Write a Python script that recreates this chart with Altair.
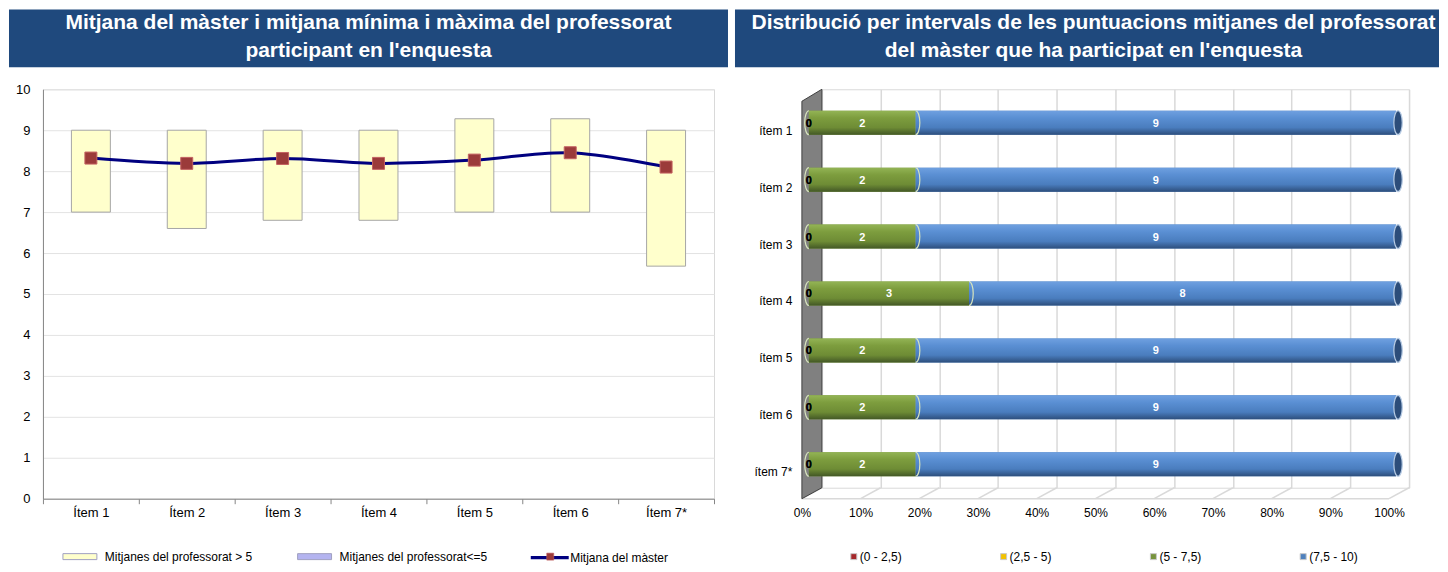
import altair as alt
import pandas as pd

FONT = "Liberation Sans"

# ---------------- titles ----------------
titol_esq = "Mitjana del màster i mitjana mínima i màxima del professorat\nparticipant en l'enquesta"
titol_dre = "Distribució per intervals de les puntuacions mitjanes del professorat\ndel màster que ha participat en l'enquesta"

# ---------------- left chart data ----------------
items_esq = ["Ítem 1", "Ítem 2", "Ítem 3", "Ítem 4", "Ítem 5", "Ítem 6", "Ítem 7*"]
minim_prof = [7.0, 6.6, 6.8, 6.8, 7.0, 7.0, 5.68]
maxim_prof = [9.0, 9.0, 9.0, 9.0, 9.28, 9.28, 9.0]
mitjana_master = [8.32, 8.19, 8.31, 8.19, 8.27, 8.45, 8.10]
ticks_y_esq = [0, 1, 2, 3, 4, 5, 6, 7, 8, 9, 10]
series_esq = ["Mitjanes del professorat > 5", "Mitjanes del professorat<=5", "Mitjana del màster"]

# ---------------- right chart data ----------------
items_dre = ["ítem 1", "ítem 2", "ítem 3", "ítem 4", "ítem 5", "ítem 6", "ítem 7*"]
intervals = ["(0 - 2,5)", "(2,5 - 5)", "(5 - 7,5)", "(7,5 - 10)"]
n_0_25 = [0, 0, 0, 0, 0, 0, 0]
n_25_5 = [0, 0, 0, 0, 0, 0, 0]
n_5_75 = [2, 2, 2, 3, 2, 2, 2]
n_75_10 = [9, 9, 9, 8, 9, 9, 9]
ticks_x_dre = [0, 0.1, 0.2, 0.3, 0.4, 0.5, 0.6, 0.7, 0.8, 0.9, 1.0]

HEAD_COLOR = "#1F497D"
EXT_L, EXT_R = 34, 87          # y-axis extents
W_L, W_R = 720, 705            # header widths
PW_L, PH_L = 672, 410
PW_R, PH_R = 588, 399
HEAD_TOP, HEAD_BOT = -80, -22  # header band relative to plot top


def capcalera(text, ext, w, centre):
    df = pd.DataFrame({"titol": [text]})
    fons = alt.Chart(df).mark_rect(fill=HEAD_COLOR).encode(
        x=alt.value(-ext), x2=alt.value(w - ext),
        y=alt.value(HEAD_TOP), y2=alt.value(HEAD_BOT))
    txt = alt.Chart(df).mark_text(
        color="white", font=FONT, fontSize=21, fontWeight="bold",
        lineBreak="\n", lineHeight=28, align="center", baseline="middle",
    ).encode(x=alt.value(centre), y=alt.value(HEAD_TOP + 14), text="titol:N")
    return [fons, txt]


# ================= LEFT BODY =================
# the marker legend is drawn on top of the line legend (its label is hidden);
# a trailing space keeps both legends from being merged into one
serie_marcador = series_esq[2] + " "
df_esq = pd.DataFrame({
    "item": items_esq, "minim": minim_prof, "maxim": maxim_prof,
    "mitjana": mitjana_master,
    "serie": [series_esq[0]] * len(items_esq),
    "serie_linia": [series_esq[2]] * len(items_esq),
    "serie_punt": [serie_marcador] * len(items_esq),
})

x_l = alt.X("item:N", sort=items_esq, title=None,
            scale=alt.Scale(paddingInner=0, paddingOuter=0),
            axis=alt.Axis(labelAngle=0, labelFontSize=13, labelFont=FONT, labelColor="#000000",
                          labelPadding=3, domainColor="#868686", tickColor="#868686",
                          tickSize=5, tickBand="extent", grid=False))
y_scale_l = alt.Scale(domain=[0, 10], nice=False)
y_axis_l = alt.Axis(values=ticks_y_esq, title=None, labelFontSize=13, labelFont=FONT,
                    labelColor="#000000", grid=True, gridColor="#E3E3E3",
                    domainColor="#868686", ticks=False, tickSize=0, labelPadding=13,
                    minExtent=EXT_L, maxExtent=EXT_L)

RECT = "M-3.4,-0.6H3.4V0.6H-3.4Z"
LINIA = "M-2.7,0H4.9"
QUADRAT = "M0.7,-0.7H2.1V0.7H0.7Z"

legend_barres = alt.Legend(
    title=None, orient="none", legendX=31, legendY=462, direction="horizontal",
    symbolSize=100, symbolType=RECT, labelFontSize=12, labelFont=FONT, labelColor="#000000",
    labelOffset=19, columnPadding=43, padding=0, symbolStrokeWidth=1,
    symbolStrokeColor="#A0A0C0", symbolOpacity=1,
)
legend_linia = alt.Legend(
    title=None, orient="none", legendX=495, legendY=462, direction="horizontal",
    symbolSize=100, symbolType=LINIA, labelFontSize=12, labelFont=FONT, labelColor="#000000",
    labelOffset=19, padding=0, symbolStrokeWidth=3.3, symbolOpacity=1, zindex=1,
)
legend_punt = alt.Legend(
    title=None, orient="none", legendX=495, legendY=462, direction="horizontal",
    symbolSize=100, symbolType=QUADRAT, labelFontSize=12, labelFont=FONT, labelColor="#000000",
    labelOffset=19, padding=0, symbolStrokeWidth=0.6, symbolStrokeColor="#C46161",
    symbolOpacity=1, labelOpacity=0, zindex=2,
)

barres_l = alt.Chart(df_esq).mark_bar(width=39, stroke="#A6A6A6", strokeWidth=1).encode(
    x=x_l,
    y=alt.Y("minim:Q", scale=y_scale_l, axis=y_axis_l, title=None),
    y2="maxim:Q",
    color=alt.Color("serie:N", scale=alt.Scale(domain=series_esq[:2],
                                               range=["#FFFFCC", "#B4B4F0"]),
                    legend=legend_barres),
)
linia_l = alt.Chart(df_esq).mark_line(strokeWidth=3, interpolate="catmull-rom").encode(
    x=x_l, y=alt.Y("mitjana:Q", scale=y_scale_l, axis=y_axis_l, title=None),
    stroke=alt.Stroke("serie_linia:N", scale=alt.Scale(domain=[series_esq[2]], range=["#000080"]),
                      legend=legend_linia))
punts_l = alt.Chart(df_esq).mark_square(size=144, stroke="#C46161",
                                        strokeWidth=1, opacity=1).encode(
    x=x_l, y=alt.Y("mitjana:Q", scale=y_scale_l, axis=y_axis_l, title=None),
    fill=alt.Fill("serie_punt:N", scale=alt.Scale(domain=[serie_marcador], range=["#9B3B3A"]),
                  legend=legend_punt))

cos_l = alt.layer(*capcalera(titol_esq, EXT_L, W_L, W_L / 2 - EXT_L),
                  barres_l, linia_l, punts_l).properties(width=PW_L, height=PH_L)

# ================= RIGHT BODY =================
files = []
for i, it in enumerate(items_dre):
    for k, arr in enumerate([n_0_25, n_25_5, n_5_75, n_75_10]):
        files.append({"item": it, "interval": intervals[k], "n": arr[i], "ordre": k})
df_dre = pd.DataFrame(files)

base_r = alt.Chart(df_dre).transform_stack(
    stack="n", groupby=["item"], as_=["v0", "v1"], offset="normalize",
    sort=[alt.SortField("ordre", order="ascending")],
).transform_calculate(mig="(datum.v0 + datum.v1) / 2")

x_axis_r = alt.Axis(values=ticks_x_dre, format=".0%", labelOffset=-20, labelPadding=20,
                    ticks=False, tickSize=0, domain=False, grid=True, gridColor="#D9D9D9",
                    gridWidth=1.5, labelFontSize=12, labelFont=FONT, labelColor="#000000",
                    labelFlush=False, title=None)
x_scale_r = alt.Scale(domain=[0, 1], nice=False)


def xr(field):
    return alt.X(field, scale=x_scale_r, axis=x_axis_r, title=None)


y_r = alt.Y("item:N", sort=items_dre, title=None,
            scale=alt.Scale(paddingInner=0, paddingOuter=0),
            axis=alt.Axis(labelFontSize=12, labelFont=FONT, labelColor="#000000",
                          labelOffset=13, labelPadding=30, ticks=False, tickSize=0,
                          domain=False, grid=False, minExtent=EXT_R, maxExtent=EXT_R))

df_ticks = pd.DataFrame({"tick": ticks_x_dre})
terra_diag = alt.Chart(df_ticks).mark_rule(color="#D9D9D9", strokeWidth=1.5,
                                           x2Offset=-20, y2Offset=11).encode(
    x=xr("tick:Q"), x2="tick:Q", y=alt.value("height"), y2=alt.value("height"))
terra_front = alt.Chart(pd.DataFrame({"a": [ticks_x_dre[0]], "b": [ticks_x_dre[-1]]})).mark_rule(
    color="#D9D9D9", strokeWidth=1.5, xOffset=-20, x2Offset=-20, yOffset=11, y2Offset=11
).encode(x=xr("a:Q"), x2="b:Q", y=alt.value("height"), y2=alt.value("height"))

PARET = "M-0.05,-0.9675L0.05,-1.0275L0.05,0.9675L-0.05,1.0225Z"
paret = alt.Chart(pd.DataFrame({"a": [ticks_x_dre[0]], "item": [items_dre[3]]})).mark_point(
    shape=PARET, size=160000, filled=True, fill="#808080", stroke="#404040",
    strokeWidth=1, opacity=1, xOffset=-10, yOffset=6,
).encode(x=xr("a:Q"), y=y_r)

legend_r = alt.Legend(
    title=None, orient="none", legendX=26, legendY=462, direction="horizontal",
    columns=4, gridAlign="all", columnPadding=89, symbolType="square", symbolSize=36,
    symbolStrokeColor="#C8C8C8", symbolStrokeWidth=1, labelFontSize=12, labelFont=FONT,
    labelColor="#000000", labelOffset=0, padding=0,
)

BAR = dict(height=24, xOffset=-13, x2Offset=-13, yOffset=5)
barres_r = base_r.mark_bar(**BAR).encode(
    x=xr("v0:Q"), x2="v1:Q", y=y_r,
    color=alt.Color("interval:N", scale=alt.Scale(
        domain=intervals, range=["#A5282B", "#F2C200", "#77933C", "#4F81BD"]), legend=legend_r),
)

grad_verd = alt.Gradient(gradient="linear", x1=0, x2=0, y1=0, y2=1, stops=[
    alt.GradientStop(color="#93B455", offset=0),
    alt.GradientStop(color="#7D9D3E", offset=0.3),
    alt.GradientStop(color="#6E8C35", offset=0.7),
    alt.GradientStop(color="#435826", offset=1)])
grad_blau = alt.Gradient(gradient="linear", x1=0, x2=0, y1=0, y2=1, stops=[
    alt.GradientStop(color="#6FA0E0", offset=0),
    alt.GradientStop(color="#5A8FD3", offset=0.3),
    alt.GradientStop(color="#4A7DBE", offset=0.7),
    alt.GradientStop(color="#2D4E7C", offset=1)])

verd = base_r.transform_filter("datum.ordre == 2").mark_bar(fill=grad_verd, **BAR).encode(
    x=xr("v0:Q"), x2="v1:Q", y=y_r)
blau = base_r.transform_filter("datum.ordre == 3").mark_bar(fill=grad_blau, **BAR).encode(
    x=xr("v0:Q"), x2="v1:Q", y=y_r)

ARC_ESQ = "M0,-1A0.35,1 0 0,0 0,1"
ARC_DRE = "M0,-1A0.35,1 0 0,1 0,1"
ELIPSE = "M0,-1A0.35,1 0 1,1 0,1A0.35,1 0 1,1 0,-1Z"
vora_inici = base_r.transform_filter("datum.ordre == 2").mark_point(
    shape=ARC_ESQ, size=576, filled=False, stroke="#D7E4BD", strokeWidth=1.2, opacity=1,
    xOffset=-13, yOffset=5).encode(x=xr("v0:Q"), y=y_r)
vora_mig = base_r.transform_filter("datum.ordre == 2").mark_point(
    shape=ARC_DRE, size=576, filled=False, stroke="#D7E4BD", strokeWidth=1.2, opacity=1,
    xOffset=-13, yOffset=5).encode(x=xr("v1:Q"), y=y_r)
tapa = base_r.transform_filter("datum.ordre == 3").mark_point(
    shape=ELIPSE, size=576, filled=True, fill="#2C4D7A", stroke="#B9CDE5", strokeWidth=1.2,
    opacity=1, xOffset=-11, yOffset=5).encode(x=xr("v1:Q"), y=y_r)

textos = base_r.mark_text(fontWeight="bold", fontSize=11, font=FONT, xOffset=-13,
                          yOffset=6).encode(
    x=xr("mig:Q"), y=y_r, text="n:Q",
    color=alt.condition("datum.n > 0", alt.value("#FFFFFF"), alt.value("#000000")))

cos_r = alt.layer(*capcalera(titol_dre, EXT_R, W_R, 272), terra_diag, terra_front, paret,
                  barres_r, verd, blau, vora_inici, vora_mig, tapa, textos).properties(
    width=PW_R, height=PH_R)

chart = alt.hconcat(cos_l, cos_r, spacing=5).properties(
    padding=0, background="#FFFFFF"
).configure_view(stroke="#D9D9D9", strokeWidth=1).resolve_scale(
    color="independent", fill="independent", stroke="independent")

chart.save("out.html", embed_options={"renderer": "svg", "actions": False})
